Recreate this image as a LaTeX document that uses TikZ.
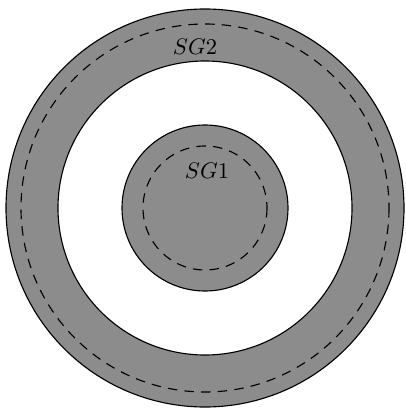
\documentclass[tikz,border=0pt]{standalone}
\usepackage{xcolor}
\usepackage{tikz}
\definecolor{ringgray}{RGB}{140,140,140}
\tikzset{
  ringfill/.style={
    fill=ringgray,
    draw=black,
    line width=0.5pt
  },
  holefill/.style={
    fill=white,
    draw=black,
    line width=0.5pt
  },
  sgborder/.style={
    draw=black,
    line width=0.5pt,
    dash pattern=on 4.2pt off 3.2pt
  },
  sglabel/.style={
    inner sep=0pt,
    font=\normalsize
  }
}

\begin{document}
\begin{tikzpicture}[x=0.0156cm, y=-0.0156cm]
\useasboundingbox (0,0) rectangle (405,408);
\coordinate (c) at (205,208);

\path[ringfill] (c) circle (199);
\path[holefill] (c) circle (147);
\path[sgborder] (c) circle (184);
\path[ringfill] (c) circle (83);
\path[sgborder] (c) circle (62);

\node[sglabel] (sgtwo) at (195,47) {$SG2$};
\node[sglabel] (sgone) at (207,171) {$SG1$};
\end{tikzpicture}
\end{document}
